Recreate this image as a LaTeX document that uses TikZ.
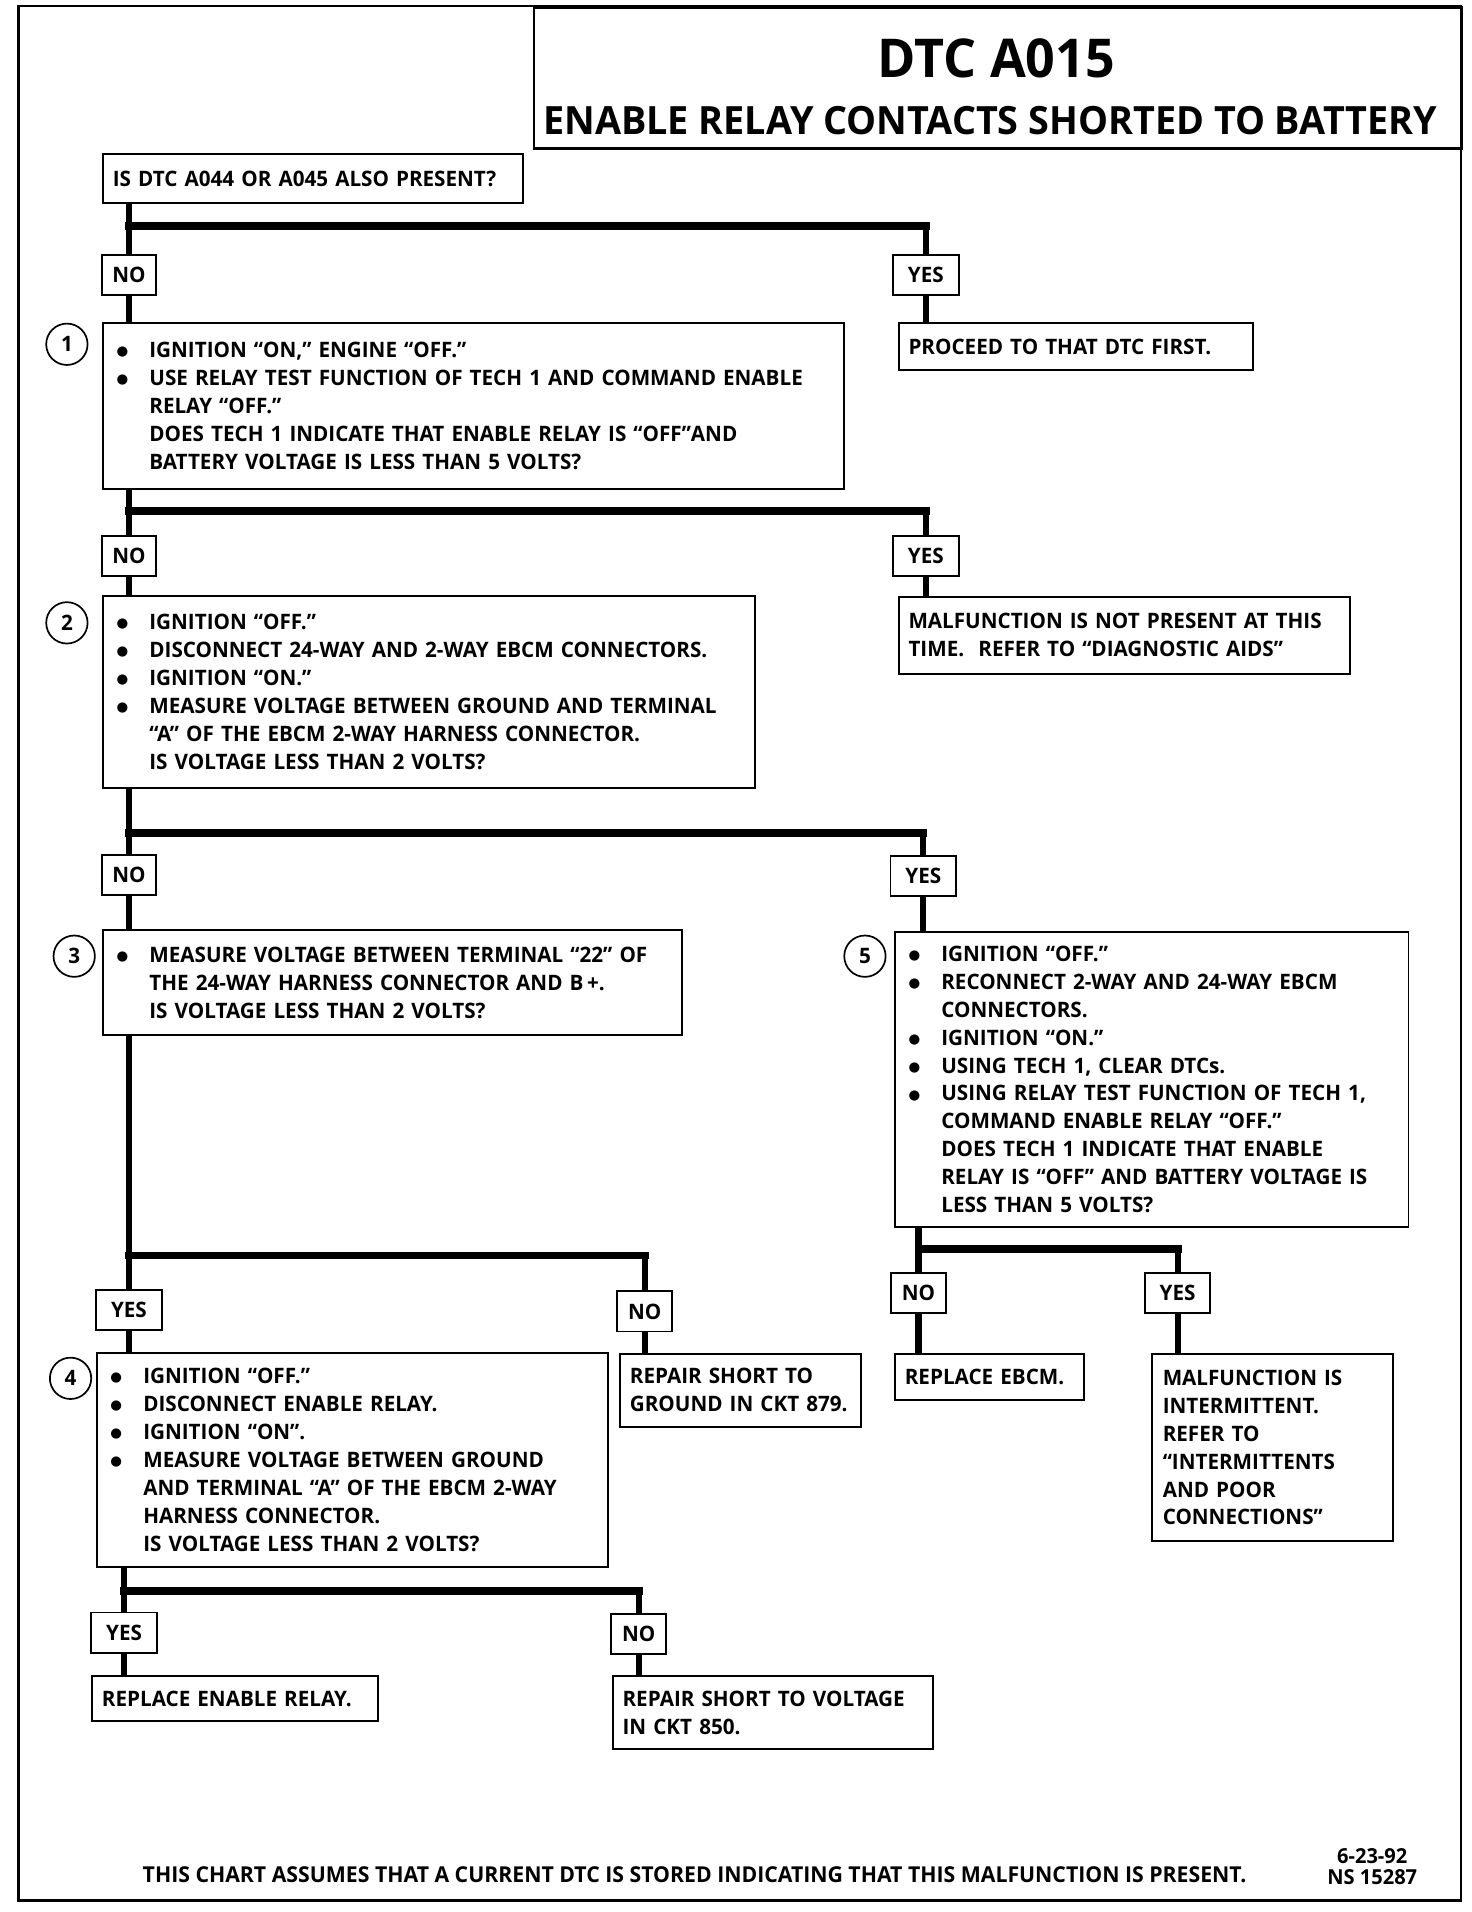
\documentclass[tikz,border=0pt]{standalone}
\usepackage{fontspec}
\setmainfont{Open Sans}[FakeStretch=0.97]
\newfontfamily\dejavu{DejaVu Sans}
\newcommand\fs{\fontsize{17.5}{23}\selectfont}
\newcommand\bul{\makebox[28pt][l]{\hspace*{1pt}\raisebox{1.6pt}{\dejavu\fontsize{11}{11}\selectfont ●}}}
\newcommand\ind{\hspace*{28pt}}
\tikzset{
 box/.style={draw, line width=1.6pt, anchor=north west, align=left, inner ysep=0pt, font=\bfseries\fs},
 lab/.style={draw, line width=1.6pt, minimum height=33pt, inner xsep=4pt, inner ysep=0pt, font=\bfseries\fs},
 nolab/.style={lab, minimum width=45pt},
 yeslab/.style={lab, minimum width=54pt},
 num/.style={draw, circle, line width=1.4pt, minimum size=34pt, inner sep=0pt, font=\bfseries\fs},
 vline/.style={line width=5pt},
 hbar/.style={line width=6.5pt, line cap=rect}
}
\begin{document}
\begin{tikzpicture}[x=1pt,y=-1pt]
\useasboundingbox (0,0) rectangle (1210,1571.7);
% frame and title
\draw[line width=2.2pt] (15,5) rectangle (1201,1562);
\node[draw, line width=2pt, anchor=north west, minimum width=763pt, minimum height=116pt, inner sep=0pt] (tbox) at (438,5) {};
\node[font=\bfseries\fontsize{44}{44}\selectfont] (t1) at (819,48) {DTC A015};
\node[font=\bfseries\fontsize{32}{32}\selectfont] (t2) at (814,99.5) {ENABLE RELAY CONTACTS SHORTED TO BATTERY};

% boxes
\node[box, minimum width=345pt, minimum height=40pt, inner xsep=8pt, text width=329pt] (q0) at (84,126) {IS DTC A044 OR A045 ALSO PRESENT?};

\node[box, minimum width=609pt, minimum height=136pt, inner xsep=10pt, text width=589pt] (b1) at (84,265) {\bul IGNITION “ON,” ENGINE “OFF.”\\
\bul USE RELAY TEST FUNCTION OF TECH 1 AND COMMAND ENABLE\\
\ind RELAY “OFF.”\\
\ind DOES TECH 1 INDICATE THAT ENABLE RELAY IS “OFF”AND\\
\ind BATTERY VOLTAGE IS LESS THAN 5 VOLTS?};

\node[box, minimum width=291pt, minimum height=38pt, inner xsep=8pt, text width=275pt] (proc) at (738,265) {PROCEED TO THAT DTC FIRST.};

\node[box, minimum width=536pt, minimum height=158pt, inner xsep=10pt, text width=516pt] (b2) at (84,489) {\bul IGNITION “OFF.”\\
\bul DISCONNECT 24-WAY AND 2-WAY EBCM CONNECTORS.\\
\bul IGNITION “ON.”\\
\bul MEASURE VOLTAGE BETWEEN GROUND AND TERMINAL\\
\ind “A” OF THE EBCM 2-WAY HARNESS CONNECTOR.\\
\ind IS VOLTAGE LESS THAN 2 VOLTS?};

\node[box, minimum width=371pt, minimum height=63pt, inner xsep=8pt, text width=355pt] (mal1) at (738,490) {MALFUNCTION IS NOT PRESENT AT THIS\\
TIME.\ \ REFER TO “DIAGNOSTIC AIDS”};

\node[box, minimum width=476pt, minimum height=86pt, inner xsep=10pt, text width=456pt] (b3) at (84,764) {\bul MEASURE VOLTAGE BETWEEN TERMINAL “22” OF\\
\ind THE 24-WAY HARNESS CONNECTOR AND B\,+.\\
\ind IS VOLTAGE LESS THAN 2 VOLTS?};

\node[box, minimum width=422pt, minimum height=243pt, inner xsep=10pt, text width=402pt] (b5) at (735,765) {\bul IGNITION “OFF.”\\
\bul RECONNECT 2-WAY AND 24-WAY EBCM\\
\ind CONNECTORS.\\
\bul IGNITION “ON.”\\
\bul USING TECH 1, CLEAR DTCs.\\
\bul USING RELAY TEST FUNCTION OF TECH 1,\\
\ind COMMAND ENABLE RELAY “OFF.”\\
\ind DOES TECH 1 INDICATE THAT ENABLE\\
\ind RELAY IS “OFF” AND BATTERY VOLTAGE IS\\
\ind LESS THAN 5 VOLTS?};

\node[box, minimum width=420pt, minimum height=176pt, inner xsep=10pt, text width=400pt] (b4) at (79,1111) {\bul IGNITION “OFF.”\\
\bul DISCONNECT ENABLE RELAY.\\
\bul IGNITION “ON”.\\
\bul MEASURE VOLTAGE BETWEEN GROUND\\
\ind AND TERMINAL “A” OF THE EBCM 2-WAY\\
\ind HARNESS CONNECTOR.\\
\ind IS VOLTAGE LESS THAN 2 VOLTS?};

\node[box, minimum width=198pt, minimum height=60pt, inner xsep=8pt, text width=182pt] (rg) at (509,1112) {REPAIR SHORT TO\\ GROUND IN CKT 879.};

\node[box, minimum width=155pt, minimum height=38pt, inner xsep=8pt, text width=139pt] (re) at (735,1112) {REPLACE EBCM.};

\node[box, minimum width=198pt, minimum height=154pt, inner xsep=9pt, text width=180pt] (mi) at (946,1112) {MALFUNCTION IS\\ INTERMITTENT.\\ REFER TO\\ “INTERMITTENTS\\ AND POOR\\ CONNECTIONS”};

\node[box, minimum width=235pt, minimum height=37pt, inner xsep=8pt, text width=219pt] (rr) at (75,1377) {REPLACE ENABLE RELAY.};

\node[box, minimum width=263pt, minimum height=60pt, inner xsep=8pt, text width=247pt] (rv) at (503,1377) {REPAIR SHORT TO VOLTAGE\\ IN CKT 850.};

% numbers
\node[num] (c1) at (55,283) {1};
\node[num] (c2) at (55,512) {2};
\node[num] (c3) at (61,786) {3};
\node[num] (c5) at (711,786) {5};
\node[num] (c4) at (58,1133) {4};

% labels
\node[nolab] (n1) at (106,226) {NO};
\node[yeslab] (y1) at (761,226) {YES};
\node[nolab] (n2) at (106,457) {NO};
\node[yeslab] (y2) at (761,457) {YES};
\node[nolab] (n3) at (106,719) {NO};
\node[yeslab] (y3) at (759,720) {YES};
\node[yeslab] (y4) at (106,1077) {YES};
\node[nolab] (n4) at (530,1078) {NO};
\node[nolab] (n5) at (755,1063) {NO};
\node[yeslab] (y5) at (968,1063) {YES};
\node[yeslab] (y6) at (102,1342) {YES};
\node[nolab] (n6) at (525,1343) {NO};

% junctions
\coordinate (j1) at (106,186);
\coordinate (j2) at (106,420);
\coordinate (j3) at (106,685);
\coordinate (j4) at (106,1032);
\coordinate (j5) at (755,1027);
\coordinate (j6) at (102,1308);

% connectors
\draw[vline] (q0.south -| n1) -- (n1.north);
\draw[hbar] (j1) -- (j1 -| y1);
\draw[vline] (j1 -| y1) -- (y1.north);
\draw[vline] (n1.south) -- (n1 |- b1.north);
\draw[vline] (y1.south) -- (y1 |- proc.north);

\draw[vline] (b1.south -| n2) -- (n2.north);
\draw[hbar] (j2) -- (j2 -| y2);
\draw[vline] (j2 -| y2) -- (y2.north);
\draw[vline] (n2.south) -- (n2 |- b2.north);
\draw[vline] (y2.south) -- (y2 |- mal1.north);

\draw[vline] (b2.south -| n3) -- (n3.north);
\draw[hbar] (j3) -- (j3 -| y3);
\draw[vline] (j3 -| y3) -- (y3.north);
\draw[vline] (n3.south) -- (n3 |- b3.north);
\draw[vline] (y3.south) -- (y3 |- b5.north);

\draw[vline] (b3.south -| y4) -- (y4.north);
\draw[hbar] (j4) -- (j4 -| n4);
\draw[vline] (j4 -| n4) -- (n4.north);
\draw[vline] (y4.south) -- (y4 |- b4.north);
\draw[vline] (n4.south) -- (n4 |- rg.north);

\draw[vline] (b5.south -| n5) -- (n5.north);
\draw[hbar] (j5) -- (j5 -| y5);
\draw[vline] (j5 -| y5) -- (y5.north);
\draw[vline] (n5.south) -- (n5 |- re.north);
\draw[vline] (y5.south) -- (y5 |- mi.north);

\draw[vline] (b4.south -| y6) -- (y6.north);
\draw[hbar] (j6) -- (j6 -| n6);
\draw[vline] (j6 -| n6) -- (n6.north);
\draw[vline] (y6.south) -- (y6 |- rr.north);
\draw[vline] (n6.south) -- (n6 |- rv.north);

% footer
\node[font=\bfseries\fontsize{18}{18}\selectfont] (foot) at (571,1541) {THIS CHART ASSUMES THAT A CURRENT DTC IS STORED INDICATING THAT THIS MALFUNCTION IS PRESENT.};
\node[font=\bfseries\fontsize{17}{17.5}\selectfont, align=center, inner sep=0pt] (date) at (1128,1534.5) {6-23-92\\NS 15287};
\end{tikzpicture}
\end{document}
